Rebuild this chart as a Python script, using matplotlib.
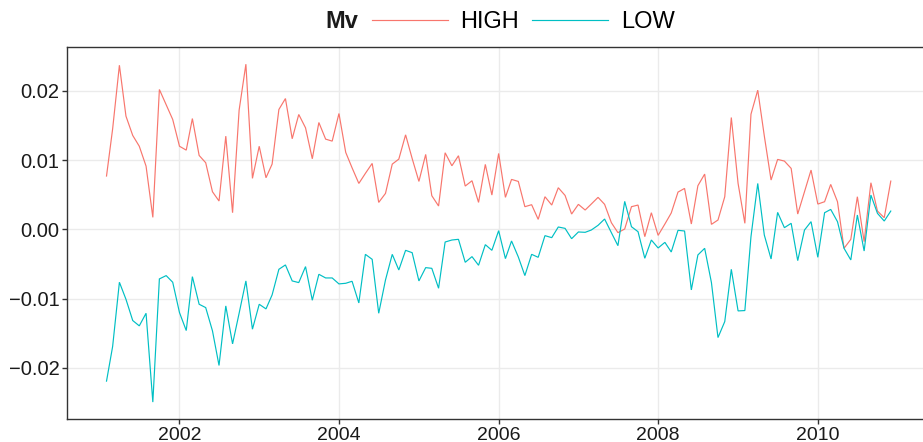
import matplotlib
matplotlib.use("Agg")
import matplotlib.pyplot as plt
import matplotlib.dates as mdates
from matplotlib.lines import Line2D
from matplotlib.ticker import FuncFormatter, FixedLocator
import pandas as pd
import numpy as np

plt.rcParams['font.family'] = ['Liberation Sans', 'DejaVu Sans']

dates = pd.date_range("2001-02-01", "2010-12-01", freq="MS")

high = [
    0.0077, 0.0145, 0.0237, 0.01635, 0.01356, 0.0120, 0.00913, 0.00173, 0.0202, 0.0180,
    0.01587, 0.0120, 0.01144, 0.0160, 0.01067, 0.00962, 0.00543, 0.00409, 0.01346, 0.0024,
    0.01721, 0.02385, 0.00736, 0.0120, 0.00745, 0.00942, 0.01731, 0.01889, 0.01308, 0.01659,
    0.01466, 0.01019, 0.01543, 0.01303, 0.01274, 0.01673, 0.01111, 0.00889, 0.00663, 0.00808,
    0.00952, 0.00389, 0.00519, 0.00942, 0.01014, 0.01365, 0.01024, 0.00692, 0.01082, 0.00486,
    0.00337, 0.01106, 0.00918, 0.01063, 0.00625, 0.00702, 0.00389, 0.00938, 0.00495, 0.01096,
    0.00462, 0.00721, 0.00692, 0.00327, 0.00356, 0.00144, 0.00471, 0.00351, 0.00601, 0.0049,
    0.00221, 0.00361, 0.00279, 0.00365, 0.00462, 0.00361, 0.00096, -0.00048, 0.00005, 0.00327,
    0.00351, -0.00106, 0.0024, -0.00087, 0.00077, 0.00236, 0.00538, 0.00591, 0.00077, 0.0063,
    0.00798, 0.00072, 0.00135, 0.00471, 0.01615, 0.00663, 0.00087, 0.01663, 0.0201, 0.0135,
    0.00712, 0.0101, 0.00986, 0.0088, 0.00221, 0.00543, 0.00856, 0.00365, 0.00399, 0.00649,
    0.00399, -0.00274, -0.00144, 0.00471, -0.00178, 0.00673, 0.00264, 0.00168, 0.00697,
]

low = [
    -0.02192, -0.01692, -0.00764, -0.0101, -0.01317, -0.01394, -0.01212, -0.02495, -0.00716, -0.00668,
    -0.00764, -0.01202, -0.01462, -0.00683, -0.01082, -0.0113, -0.01466, -0.01966, -0.01106, -0.01654,
    -0.01212, -0.00745, -0.01442, -0.01082, -0.01149, -0.00947, -0.00577, -0.00514, -0.00745, -0.00769,
    -0.00538, -0.01024, -0.00649, -0.00702, -0.00702, -0.00788, -0.00779, -0.0075, -0.01063, -0.00361,
    -0.00433, -0.01212, -0.00731, -0.00361, -0.00587, -0.00303, -0.00337, -0.00745, -0.00553, -0.00563,
    -0.00851, -0.00183, -0.00154, -0.00144, -0.00476, -0.00394, -0.00519, -0.00221, -0.00303, -0.00019,
    -0.00423, -0.00168, -0.00399, -0.00668, -0.00361, -0.00404, -0.00091, -0.0012, 0.00034, 0.00014,
    -0.00135, -0.00038, -0.00043, -0.0001, 0.00058, 0.00149, -0.00048, -0.00236, 0.00404, 0.00038,
    -0.00034, -0.00418, -0.00154, -0.00269, -0.00188, -0.00327, -0.00014, -0.00024, -0.00875, -0.0037,
    -0.00274, -0.00769, -0.01563, -0.01332, -0.00577, -0.01178, -0.01173, -0.00106, 0.00663, -0.00082,
    -0.00428, 0.00245, 0.00024, 0.00087, -0.00452, -0.0001, 0.00111, -0.00404, 0.0024, 0.00288,
    0.00111, -0.00274, -0.00442, 0.00207, -0.00313, 0.00495, 0.00231, 0.0012, 0.00264,
]

series_names = ["HIGH", "LOW"]
series_colors = ["#F8766D", "#00BFC4"]
legend_title = "Mv"
y_ticks = [-0.02, -0.01, 0.00, 0.01, 0.02]
x_tick_years = [2002, 2004, 2006, 2008, 2010]

W, H = 923, 442
fig = plt.figure(figsize=(W / 100, H / 100), dpi=100)
left, right, top, bottom = 67.3, 930.0, 47.3, 419.0
ax = fig.add_axes([left / W, 1 - bottom / H, (right - left) / W, (bottom - top) / H])

for vals, name, col in zip([high, low], series_names, series_colors):
    ax.plot(dates, vals, color=col, lw=0.85, label=name, solid_joinstyle='miter')

# limits with 5% expansion like ggplot
xn = mdates.date2num(dates)
xr = xn.max() - xn.min()
ax.set_xlim(xn.min() - 0.05 * xr, xn.max() + 0.05 * xr)
allv = np.array(high + low)
yr = allv.max() - allv.min()
ax.set_ylim(allv.min() - 0.05 * yr, allv.max() + 0.05 * yr)

ax.yaxis.set_major_locator(FixedLocator(y_ticks))
ax.yaxis.set_major_formatter(FuncFormatter(lambda v, p: f"{v:.2f}".replace("-", "\u2212")))
xt = [mdates.date2num(pd.Timestamp(f"{y}-01-01")) for y in x_tick_years]
ax.xaxis.set_major_locator(FixedLocator(xt))
ax.xaxis.set_major_formatter(FuncFormatter(lambda v, p: mdates.num2date(v).strftime("%Y")))

ax.grid(True, color="#EBEBEB", lw=1.0)
ax.set_axisbelow(True)
for s in ax.spines.values():
    s.set_color("#333333")
    s.set_linewidth(1.0)
ax.tick_params(axis='both', length=3.5, width=1.0, color="#333333", labelcolor="#1A1A1A")
ax.tick_params(axis='y', pad=2, labelsize=14.5)
ax.tick_params(axis='x', pad=2.2, labelsize=14)

handles = [Line2D([], [], color=c, lw=0.85) for c in series_colors]
fig.legend(handles, series_names, ncol=2, frameon=False, fontsize=17,
           loc='center left', bbox_to_anchor=(372 / W, 1 - 22 / H),
           handlelength=3.2, handletextpad=0.55, columnspacing=0.55,
           borderpad=0, borderaxespad=0)
fig.text(325 / W, 1 - 22 / H, legend_title, fontsize=17, fontweight='bold',
         ha='left', va='center', color="#1A1A1A")

fig.savefig("out.png", dpi=100)
